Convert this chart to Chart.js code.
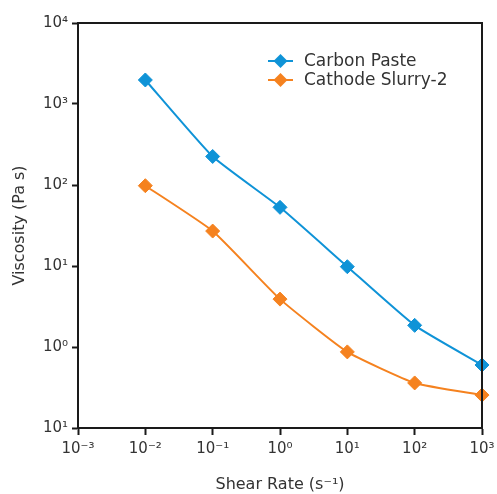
<!DOCTYPE html>
<html>
<head>
<meta charset="utf-8">
<script src="https://cdn.jsdelivr.net/npm/chart.js@4"></script>
<style>
  html, body { margin: 0; padding: 0; background: #fff; }
  #wrap { width: 497px; height: 494px; }
</style>
</head>
<body>
<div id="wrap"><canvas id="chart" width="497" height="494"></canvas></div>
<script>
// ==================== DATA ====================

const shearRates = [0.01, 0.1, 1, 10, 100, 1000];
const carbonPaste = [1980, 225, 53, 9.8, 1.85, 0.6];
const cathodeSlurry = [98, 27, 3.9, 0.87, 0.36, 0.255];

const xTickValues = [0.001, 0.01, 0.1, 1, 10, 100, 1000];
const xTickLabels = ['10⁻³', '10⁻²', '10⁻¹', '10⁰', '10¹', '10²', '10³'];
const yTickValues = [0.1, 1, 10, 100, 1000, 10000];
const yTickLabels = ['10¹', '10⁰', '10¹', '10²', '10³', '10⁴'];

const BLUE = '#0f93d7';
const ORANGE = '#f5821f';
const TEXT = '#333333';
const FONT = "'DejaVu Sans', sans-serif";

// ==================== PLUGINS ====================

// box around the plot area
const framePlugin = {
    id: 'frame',
    afterDraw(chart) {
        const { ctx, chartArea: a } = chart;
        ctx.save();
        ctx.strokeStyle = '#1a1a1a';
        ctx.lineWidth = 2;
        ctx.strokeRect(a.left, a.top, a.right - a.left, a.bottom - a.top);
        ctx.restore();
    }
};

// legend drawn inside the plot, top right
const innerLegend = {
    id: 'innerLegend',
    afterDraw(chart) {
        const { ctx, chartArea: a } = chart;
        ctx.save();
        chart.data.datasets.forEach((ds, i) => {
            const y = a.top + 38 + i * 19;
            const x0 = a.left + 190;
            ctx.strokeStyle = ds.borderColor;
            ctx.lineWidth = 2;
            ctx.beginPath();
            ctx.moveTo(x0, y);
            ctx.lineTo(x0 + 25, y);
            ctx.stroke();
            ctx.fillStyle = ds.borderColor;
            ctx.beginPath();
            ctx.moveTo(x0 + 12.5, y - 7);
            ctx.lineTo(x0 + 19.5, y);
            ctx.lineTo(x0 + 12.5, y + 7);
            ctx.lineTo(x0 + 5.5, y);
            ctx.closePath();
            ctx.fill();
            ctx.fillStyle = TEXT;
            ctx.font = '17px ' + FONT;
            ctx.textBaseline = 'middle';
            ctx.fillText(ds.label, x0 + 36, y + 1);
        });
        ctx.restore();
    }
};

// ==================== CHART ====================

function makeSeries(values) {
    return shearRates.map((x, i) => ({ x: x, y: values[i] }));
}

const ctx = document.getElementById('chart').getContext('2d');

new Chart(ctx, {
    type: 'line',
    data: {
        datasets: [
            {
                label: 'Carbon Paste',
                data: makeSeries(carbonPaste),
                borderColor: BLUE,
                backgroundColor: BLUE,
                borderWidth: 2,
                pointStyle: 'rectRot',
                pointRadius: 7,
                pointBorderWidth: 1,
                tension: 0.15
            },
            {
                label: 'Cathode Slurry-2',
                data: makeSeries(cathodeSlurry),
                borderColor: ORANGE,
                backgroundColor: ORANGE,
                borderWidth: 2,
                pointStyle: 'rectRot',
                pointRadius: 7,
                pointBorderWidth: 1,
                tension: 0.15
            }
        ]
    },
    options: {
        responsive: false,
        animation: false,
        clip: false,
        layout: { padding: { top: 23, right: 15, left: 0, bottom: 0 } },
        plugins: {
            legend: { display: false },
            tooltip: { enabled: false }
        },
        scales: {
            x: {
                type: 'logarithmic',
                min: 0.001,
                max: 1000,
                afterBuildTicks(axis) {
                    axis.ticks = xTickValues.map(v => ({ value: v }));
                },
                afterFit(axis) {
                    axis.height = 66;
                    axis.paddingLeft = 0;
                    axis.paddingRight = 0;
                },
                grid: {
                    drawOnChartArea: false,
                    drawTicks: true,
                    tickLength: 7,
                    tickWidth: 2,
                    tickColor: '#1a1a1a'
                },
                border: { color: '#1a1a1a', width: 2 },
                ticks: {
                    autoSkip: false,
                    maxRotation: 0,
                    padding: 5,
                    color: TEXT,
                    font: { family: FONT, size: 15 },
                    callback: (v, i) => xTickLabels[i]
                },
                title: {
                    display: true,
                    text: 'Shear Rate (s⁻¹)',
                    color: TEXT,
                    font: { family: FONT, size: 16 },
                    padding: { top: 8, bottom: 0 }
                }
            },
            y: {
                type: 'logarithmic',
                min: 0.1,
                max: 10000,
                afterBuildTicks(axis) {
                    axis.ticks = yTickValues.map(v => ({ value: v }));
                },
                afterFit(axis) { axis.width = 78; },
                grid: {
                    drawOnChartArea: false,
                    drawTicks: true,
                    tickLength: 6,
                    tickWidth: 2,
                    tickColor: '#1a1a1a'
                },
                border: { color: '#1a1a1a', width: 2 },
                ticks: {
                    autoSkip: false,
                    padding: 4,
                    color: TEXT,
                    font: { family: FONT, size: 15 },
                    callback: (v, i) => yTickLabels[i]
                },
                title: {
                    display: true,
                    text: 'Viscosity (Pa s)',
                    color: TEXT,
                    font: { family: FONT, size: 16 },
                    padding: { top: 10, bottom: 4 }
                }
            }
        }
    },
    plugins: [framePlugin, innerLegend]
});
</script>
</body>
</html>
